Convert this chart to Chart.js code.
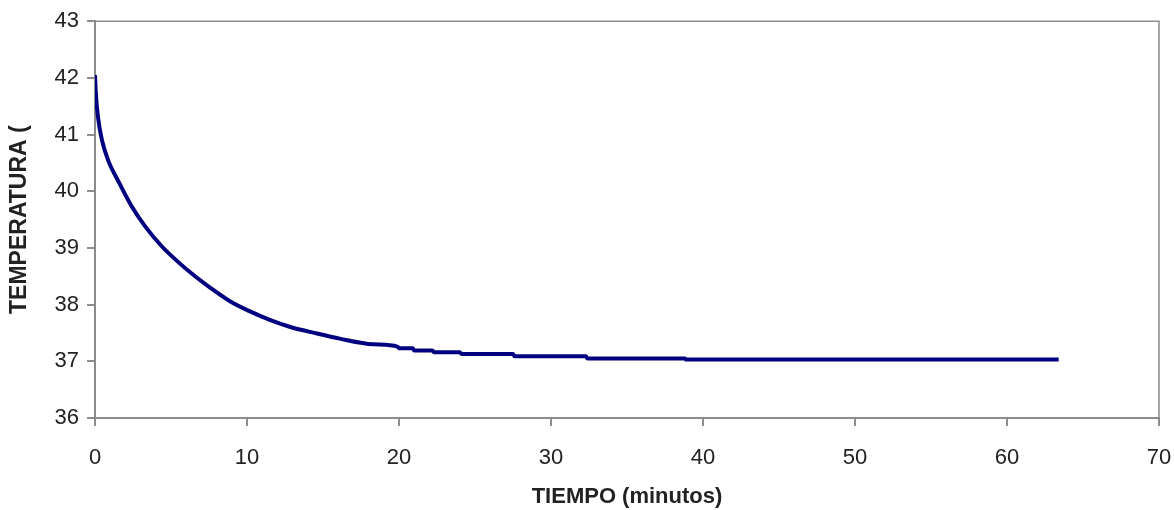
<!DOCTYPE html>
<html>
<head>
<meta charset="utf-8">
<title>Temperatura vs tiempo</title>
<script src="https://cdn.jsdelivr.net/npm/chart.js@4.4.1/dist/chart.umd.min.js"></script>
<style>
  html, body { margin: 0; padding: 0; background: #fff; }
  #wrap { width: 1174px; height: 510px; position: relative; }
</style>
</head>
<body>
<div id="wrap"><canvas id="tempChart"></canvas></div>
<script>
  // values
  const timeMin = [0, 0.05, 0.2, 0.46, 0.86, 1.53, 2.4, 3.3, 4.39, 5.48, 6.4, 7.57, 8.88, 10.2, 11.5, 12.8, 14.6, 16.1, 18.3,
    19.9, 20.0, 20.9, 21.0, 22.2, 22.3, 24.0, 24.1, 27.5, 27.6, 32.3, 32.4, 38.8, 38.9, 63.4];
  const tempC = [42.05, 41.75, 41.3, 40.9, 40.55, 40.18, 39.74, 39.38, 39.03, 38.75, 38.54, 38.3, 38.06, 37.88, 37.73, 37.61, 37.49, 37.4, 37.3,
    37.26, 37.23, 37.23, 37.19, 37.19, 37.16, 37.16, 37.13, 37.13, 37.09, 37.09, 37.05, 37.05, 37.03, 37.03];
  const xTicks = [0, 10, 20, 30, 40, 50, 60, 70];
  const yTicks = [36, 37, 38, 39, 40, 41, 42, 43];

  const axisGray = "#8c8c8c";
  const textColor = "#222";
  const family = "'Liberation Sans', Arial, sans-serif";

  const frame = {
    id: "frame",
    afterDraw(chart) {
      const { ctx, chartArea: a } = chart;
      ctx.save();
      ctx.strokeStyle = axisGray;
      ctx.lineWidth = 1.5;
      ctx.beginPath();
      ctx.moveTo(a.left, a.top);
      ctx.lineTo(a.right, a.top);
      ctx.lineTo(a.right, a.bottom);
      ctx.stroke();
      ctx.restore();
    }
  };

  new Chart(document.getElementById("tempChart"), {
    type: "scatter",
    data: {
      datasets: [{
        data: timeMin.map((t, i) => ({ x: t, y: tempC[i] })),
        showLine: true,
        borderColor: "#000080",
        borderWidth: 4,
        pointRadius: 0,
        cubicInterpolationMode: "monotone"
      }]
    },
    options: {
      responsive: true,
      maintainAspectRatio: false,
      animation: false,
      layout: { padding: { top: 21, right: 15, left: 0, bottom: 0 } },
      plugins: { legend: { display: false }, tooltip: { enabled: false } },
      scales: {
        x: {
          type: "linear",
          min: 0,
          max: 70,
          afterBuildTicks: scale => { scale.ticks = xTicks.map(v => ({ value: v })); },
          afterFit: scale => { scale.height = 92; scale.paddingRight = 0; scale.paddingLeft = 0; },
          grid: { drawOnChartArea: false, drawTicks: true, tickLength: 8, color: axisGray, lineWidth: 2 },
          border: { color: axisGray, width: 2 },
          ticks: { color: textColor, font: { family, size: 22 }, padding: 19, maxRotation: 0 },
          title: {
            display: true,
            text: "TIEMPO (minutos)",
            color: textColor,
            font: { family, size: 22, weight: "bold" },
            padding: { top: 0, bottom: 0 }
          }
        },
        y: {
          type: "linear",
          min: 36,
          max: 43,
          afterBuildTicks: scale => { scale.ticks = yTicks.map(v => ({ value: v })); },
          afterFit: scale => { scale.width = 95; },
          grid: { drawOnChartArea: false, drawTicks: true, tickLength: 8, color: axisGray, lineWidth: 2 },
          border: { color: axisGray, width: 2 },
          ticks: { color: textColor, font: { family, size: 22 }, padding: 8 },
          title: {
            display: true,
            text: "TEMPERATURA (",
            color: textColor,
            font: { family, size: 23, weight: "bold" },
            padding: { top: 6, bottom: 0 }
          }
        }
      }
    },
    plugins: [frame]
  });
</script>
</body>
</html>
